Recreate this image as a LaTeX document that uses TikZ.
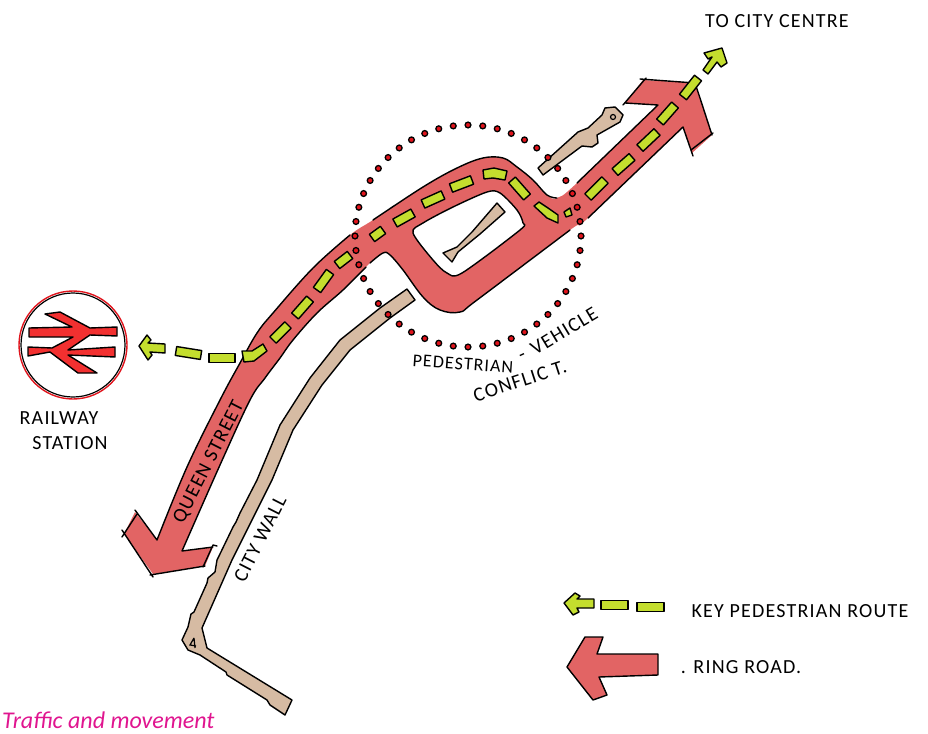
\documentclass[tikz,border=0pt]{standalone}
\usepackage{fontspec}
\setmainfont{Carlito}
\newfontfamily\handfont[LetterSpace=6]{Carlito}
\usepackage{xcolor}
\usepackage{tikz}
\usetikzlibrary{calc}
\definecolor{roadred}{HTML}{E26464}
\definecolor{routegreen}{HTML}{C4DE2E}
\definecolor{walltan}{HTML}{D6BBA3}
\definecolor{dotred}{HTML}{E0141C}
\definecolor{logored}{HTML}{F23030}
\definecolor{titlepink}{HTML}{E0158F}
\newcommand{\pdash}[2]{\draw[routefill] ($(#1)!4.5pt!90:(#2)$) -- ($(#1)!4.5pt!-90:(#2)$) -- ($(#2)!4.5pt!90:(#1)$) -- ($(#2)!4.5pt!-90:(#1)$) -- cycle;}
\begin{document}
\begin{tikzpicture}[
    x=1pt, y=-1pt,
    roadline/.style={draw=black, line width=1.4pt, line cap=round, line join=round},
    routefill/.style={draw=black, fill=routegreen, line width=1.4pt, line join=round},
    wallfill/.style={draw=black, fill=walltan, line width=1.4pt, line join=round},
    conflictdot/.style={draw=black, fill=dotred, line width=1.3pt},
    hand/.style={font=\handfont\fontsize{20}{22}\selectfont, inner sep=0pt},
    handsmall/.style={font=\handfont\fontsize{18}{20}\selectfont, inner sep=0pt}
]
  \useasboundingbox (0,0) rectangle (928,733);

  % ring road
  \fill[roadred] (135,512) -- (124,534) -- (153,574) -- (205,566) -- (213,547) -- (182,551)
    -- plot[smooth, tension=.6] coordinates {(182,551) (220,465) (250,400) (265,378) (280,358) (293,340) (317,313) (343,290) (370,263) (383,253) (390,255) (403,270) (423,297) (440,310) (460,312) (477,300) (570,230) (588,218) (683,127)}
    -- (692,153) -- (712,135) -- (700,98) -- (695,83) -- (643,80) -- (625,103) -- (658,105)
    -- plot[smooth, tension=.6] coordinates {(658,105) (577,183) (557,198) (547,195) (533,180) (517,167) (503,158) (483,158) (457,168) (423,187) (373,220) (350,235) (313,268) (273,313) (257,333) (240,363) (220,400) (187,467) (157,540)}
    -- cycle;
  \fill[white] plot[smooth cycle, tension=.5] coordinates {(413,233) (423,223) (453,207) (487,192) (500,193) (517,210) (523,223) (520,230) (462,273) (447,273) (433,260)};

  \draw[roadline] plot[smooth, tension=.6] coordinates {(350,235) (313,268) (273,313) (257,333) (240,363) (220,400) (187,467) (157,540)}
    -- (135,510) (137,514) -- (122,537) (122,530) -- (153,577) (150,575) -- (205,566) (203,567) -- (213,545) -- (217,546) (213,547) -- (182,551)
    plot[smooth, tension=.6] coordinates {(182,551) (220,465) (250,400) (265,378) (280,358) (293,340) (317,313) (343,290) (366,267)};
  \draw[roadline] plot[smooth, tension=.6] coordinates {(370,263) (383,253) (390,255) (403,270) (423,297) (440,310) (460,312) (477,300) (570,230)};
  \draw[roadline] plot[smooth, tension=.6] coordinates {(588,218) (683,127)}
    -- (693,156) (691,150) -- (713,133) (712,135) -- (700,98) -- (695,83) -- (640,79) (646,78) -- (623,105) (625,103) -- (658,105)
    plot[smooth, tension=.6] coordinates {(658,105) (577,183)};
  \draw[roadline] plot[smooth, tension=.6] coordinates {(557,198) (547,195) (533,180) (517,167) (503,158) (483,158) (457,168) (423,187) (373,220)};
  \draw[roadline] plot[smooth cycle, tension=.5] coordinates {(413,233) (423,223) (453,207) (487,192) (500,193) (517,210) (523,223) (520,230) (462,273) (447,273) (433,260)};

  % city wall
  \draw[wallfill] (407,289) -- (415,300) -- (390,318) -- (350,350) -- (322,385) -- (293,430) -- (272,480) -- (232,560) -- (202,628) -- (207,648)
    -- (292,700) -- (285,715) -- (270,705) -- (267,700) -- (227,675) -- (226,672) -- (200,655) -- (188,650) -- (182,640) -- (188,627) -- (191,614) -- (194,612) -- (207,583) -- (208,578) -- (215,572) -- (217,560) -- (219,556) -- (233,527) -- (236,522) -- (240,513) -- (257,480) -- (280,425) -- (310,378) -- (340,340) -- (380,308) -- cycle;
  \draw[line width=1.2pt] (194,638) -- (190,645) -- (196,646) (194,638) -- (195,648);
  \draw[wallfill] (538,168) -- (578,132) -- (588,128) -- (602,115) -- (605,108) -- (615,107) -- (623,115) -- (620,122) -- (597,135) -- (598,143) -- (592,147) -- (582,146) -- (543,175) -- cycle;
  \draw[line width=1.2pt] (613,117) circle (2.5);
  \draw[wallfill] (443,253) -- (457,247) -- (472,232) -- (497,203) -- (505,212) -- (480,234) -- (458,252) -- (452,262) -- cycle;

  % pedestrian route
  \foreach \ax/\ay/\bx/\by in {273/340/288/325, 295/316/310/299, 317/290/330/272, 337/265/350/255, 372/238/383/230, 395/223/413/213, 423/204/443/195, 451/188/472/180, 512/180/527/197, 588/197/605/180, 615/172/632/157, 640/148/657/132, 660/122/675/105, 683/97/698/78, 209/358/235/358, 176/351/201/355, 601/605/628/605, 637/607/664/607}
    {\pdash{\ax,\ay}{\bx,\by}}
  \draw[routefill] (242,351) -- (252,351) -- (263,344) -- (267,351) -- (254,361) -- (244,362) -- cycle;
  \draw[routefill] (483,170) -- (494,168) -- (507,171) -- (505,180) -- (493,178) -- (484,179) -- cycle;
  \draw[routefill] (534,206) -- (539,202) -- (548,208) -- (558,215) -- (558,223) -- (547,218) -- cycle;
  \draw[routefill] (564,212) -- (570,208) -- (572,215) -- (566,217) -- cycle;
  \draw[routefill] (139,346) -- (147,335) -- (151,340) -- (148,343) -- (165,344) -- (165,353) -- (150,352) -- (152,355) -- (148,360) -- cycle;
  \draw[routefill] (722,48) -- (704,53) -- (708,59) -- (712,57) -- (703,70) -- (708,74) -- (717,62) -- (721,67) -- (727,63) -- cycle;
  \draw[routefill] (564,603) -- (575,593) -- (580,596) -- (577,599) -- (594,599) -- (594,608) -- (577,608) -- (579,612) -- (573,615) -- cycle;

  % conflict zone
  \foreach \ang in {0,7.5,...,352.5}
    \draw[conflictdot] ({468+113*cos(\ang)},{236+111*sin(\ang)}) circle (2.9);

  % railway logo
  \draw[dotred, line width=1.4pt] (73,345) circle (54);
  \draw[line width=1.2pt] (73,345) circle (52);
  \draw[draw=black, fill=logored, line width=1.4pt, line join=round] (45,314) -- (60,312) -- (90,328) -- (117,327) -- (117,336) -- (90,335) -- (68,350) -- (115,347) -- (115,357) -- (68,355) -- (97,373) -- (78,373) -- (50,352) -- (28,356) -- (28,347) -- (52,348) -- (73,337) -- (29,337) -- (29,328) -- (72,327) -- cycle;

  % legend arrow
  \draw[roadline, fill=roadred] (567,667) -- (585,637) -- (603,637) -- (597,654) -- (658,654) -- (658,675) -- (599,677) -- (607,695) -- (593,700) -- cycle;

  % labels
  \node[hand] (citycentre) at (777,21) {TO CITY CENTRE};
  \node[hand] (railway) at (59,418) {RAILWAY};
  \node[hand] (station) at (70,443) {STATION};
  \node[handsmall, rotate=-4] (pedestrian) at (463,364) {PEDESTRIAN};
  \node[hand, rotate=25] (hyphen) at (523,357) {-};
  \node[hand, rotate=31] (vehicle) at (564,331) {VEHICLE};
  \node[hand, rotate=18] (conflict) at (520,381) {CONFLIC T.};
  \node[hand, rotate=63] (queen) at (209,462) {QUEEN STREET};
  \node[hand, rotate=63] (citywall) at (260,539) {CITY WALL};
  \node[hand] (keyroute) at (800,611) {KEY PEDESTRIAN ROUTE};
  \node[hand] (ringroad) at (741,667) {. RING ROAD.};
  \node[anchor=base west, inner sep=0pt, text=titlepink, font=\itshape\fontsize{24}{26}\selectfont] (title) at (2,728) {Traffic and movement};
\end{tikzpicture}
\end{document}
